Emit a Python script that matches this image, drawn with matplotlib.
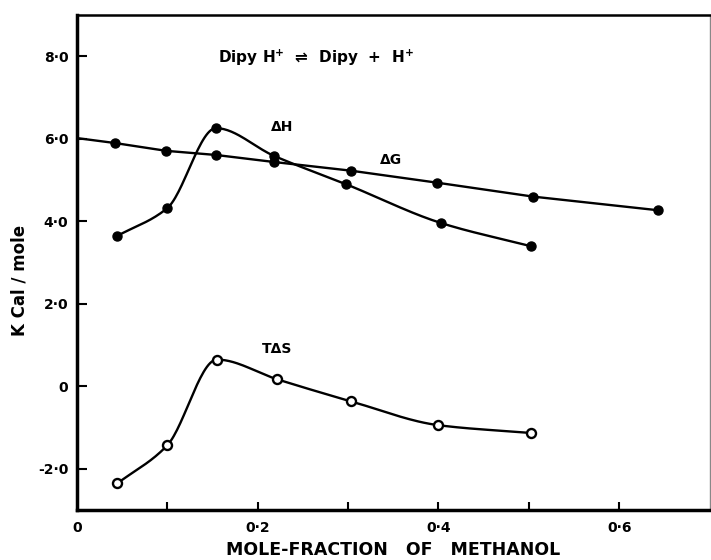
"""
Thermodynamic functions of DipyH+ dissociation vs mole-fraction of methanol.
"""

import numpy as np
from matplotlib import pyplot as plt

# values
x_dg = [0.0, 0.042, 0.099, 0.154, 0.218, 0.303, 0.398, 0.505, 0.643]
dg = [6.02, 5.90, 5.71, 5.61, 5.44, 5.23, 4.94, 4.60, 4.27]

x_dh = [0.045, 0.100, 0.154, 0.218, 0.298, 0.403, 0.502]
dh = [3.65, 4.32, 6.26, 5.59, 4.90, 3.96, 3.40]

x_tds = [0.045, 0.100, 0.155, 0.222, 0.303, 0.400, 0.503]
tds = [-2.35, -1.43, 0.65, 0.17, -0.36, -0.94, -1.13]

y_ticks = [-2.0, 0.0, 2.0, 4.0, 6.0, 8.0]
y_labels = ["-2·0", "0", "2·0", "4·0", "6·0", "8·0"]
x_ticks = [0.0, 0.2, 0.4, 0.6]
x_labels = ["0", "0·2", "0·4", "0·6"]
x_minor = [0.1, 0.3, 0.5]


def smooth(xs, ys, n=30):
    """Monotone cubic (Fritsch-Carlson) curve through the points, for drawing."""
    xs = np.asarray(xs, float)
    ys = np.asarray(ys, float)
    h = np.diff(xs)
    d = np.diff(ys) / h
    m = np.zeros_like(ys)
    m[0], m[-1] = d[0], d[-1]
    for i in range(1, len(xs) - 1):
        if d[i - 1] * d[i] > 0:
            w1 = 2 * h[i] + h[i - 1]
            w2 = h[i] + 2 * h[i - 1]
            m[i] = (w1 + w2) / (w1 / d[i - 1] + w2 / d[i])
    out_x, out_y = [], []
    t = np.linspace(0, 1, n, endpoint=False)
    for i in range(len(xs) - 1):
        h00 = 2 * t ** 3 - 3 * t ** 2 + 1
        h10 = t ** 3 - 2 * t ** 2 + t
        h01 = -2 * t ** 3 + 3 * t ** 2
        h11 = t ** 3 - t ** 2
        out_x.extend(xs[i] + t * h[i])
        out_y.extend(h00 * ys[i] + h10 * h[i] * m[i] + h01 * ys[i + 1] + h11 * h[i] * m[i + 1])
    out_x.append(xs[-1])
    out_y.append(ys[-1])
    return out_x, out_y


plt.rcParams["font.family"] = ["DejaVu Sans"]
plt.rcParams["font.weight"] = "bold"

fig = plt.figure(figsize=(7.11, 5.6), dpi=100)
ax = fig.add_axes([0.108, 0.089, 0.89, 0.884])

lw = 1.7
ax.plot(x_dg, dg, color="black", linewidth=lw)
ax.plot(x_dg[1:], dg[1:], "o", color="black", markersize=6.5)

sx, sy = smooth(x_dh, dh)
ax.plot(sx, sy, color="black", linewidth=lw)
ax.plot(x_dh, dh, "o", color="black", markersize=6.5)

sx, sy = smooth(x_tds, tds)
ax.plot(sx, sy, color="black", linewidth=lw)
ax.plot(x_tds, tds, "o", markerfacecolor="white", markeredgecolor="black",
        markeredgewidth=1.7, markersize=6.5, zorder=5)

ax.text(0.215, 6.2, "ΔH", fontsize=10, fontweight="bold")
ax.text(0.335, 5.4, "ΔG", fontsize=10, fontweight="bold")
ax.text(0.205, 0.82, "TΔS", fontsize=10, fontweight="bold")
ax.text(0.264, 7.96, "Dipy H$^{+}$  ⇌  Dipy  +  H$^{+}$", fontsize=11,
        fontweight="bold", ha="center", va="center")

ax.set_xlim(0, 0.7)
ax.set_ylim(-3.0, 9.0)
ax.set_yticks(y_ticks)
ax.set_yticklabels(y_labels, fontsize=10, fontweight="bold")
ax.set_xticks(x_ticks)
ax.set_xticklabels(x_labels, fontsize=10, fontweight="bold")
ax.set_xticks(x_minor, minor=True)
ax.tick_params(axis="y", direction="in", length=7, width=1.5, pad=6)
ax.tick_params(axis="x", which="both", direction="in", length=6, width=1.5, pad=8)
ax.xaxis.get_major_ticks()[0].tick1line.set_visible(False)

ax.set_xlabel("MOLE-FRACTION   OF   METHANOL", fontsize=12.5, fontweight="bold",
              va="center")
ax.xaxis.set_label_coords(0.5, -0.08)
ax.set_ylabel("K Cal / mole", fontsize=12, fontweight="bold", va="center")
ax.yaxis.set_label_coords(-0.09, 0.465)

ax.spines["left"].set_linewidth(2.5)
ax.spines["bottom"].set_linewidth(2.5)
ax.spines["top"].set_linewidth(1.8)
ax.spines["right"].set_linewidth(1.0)
ax.spines["right"].set_color("#888888")

fig.savefig("out.png", dpi=100)
